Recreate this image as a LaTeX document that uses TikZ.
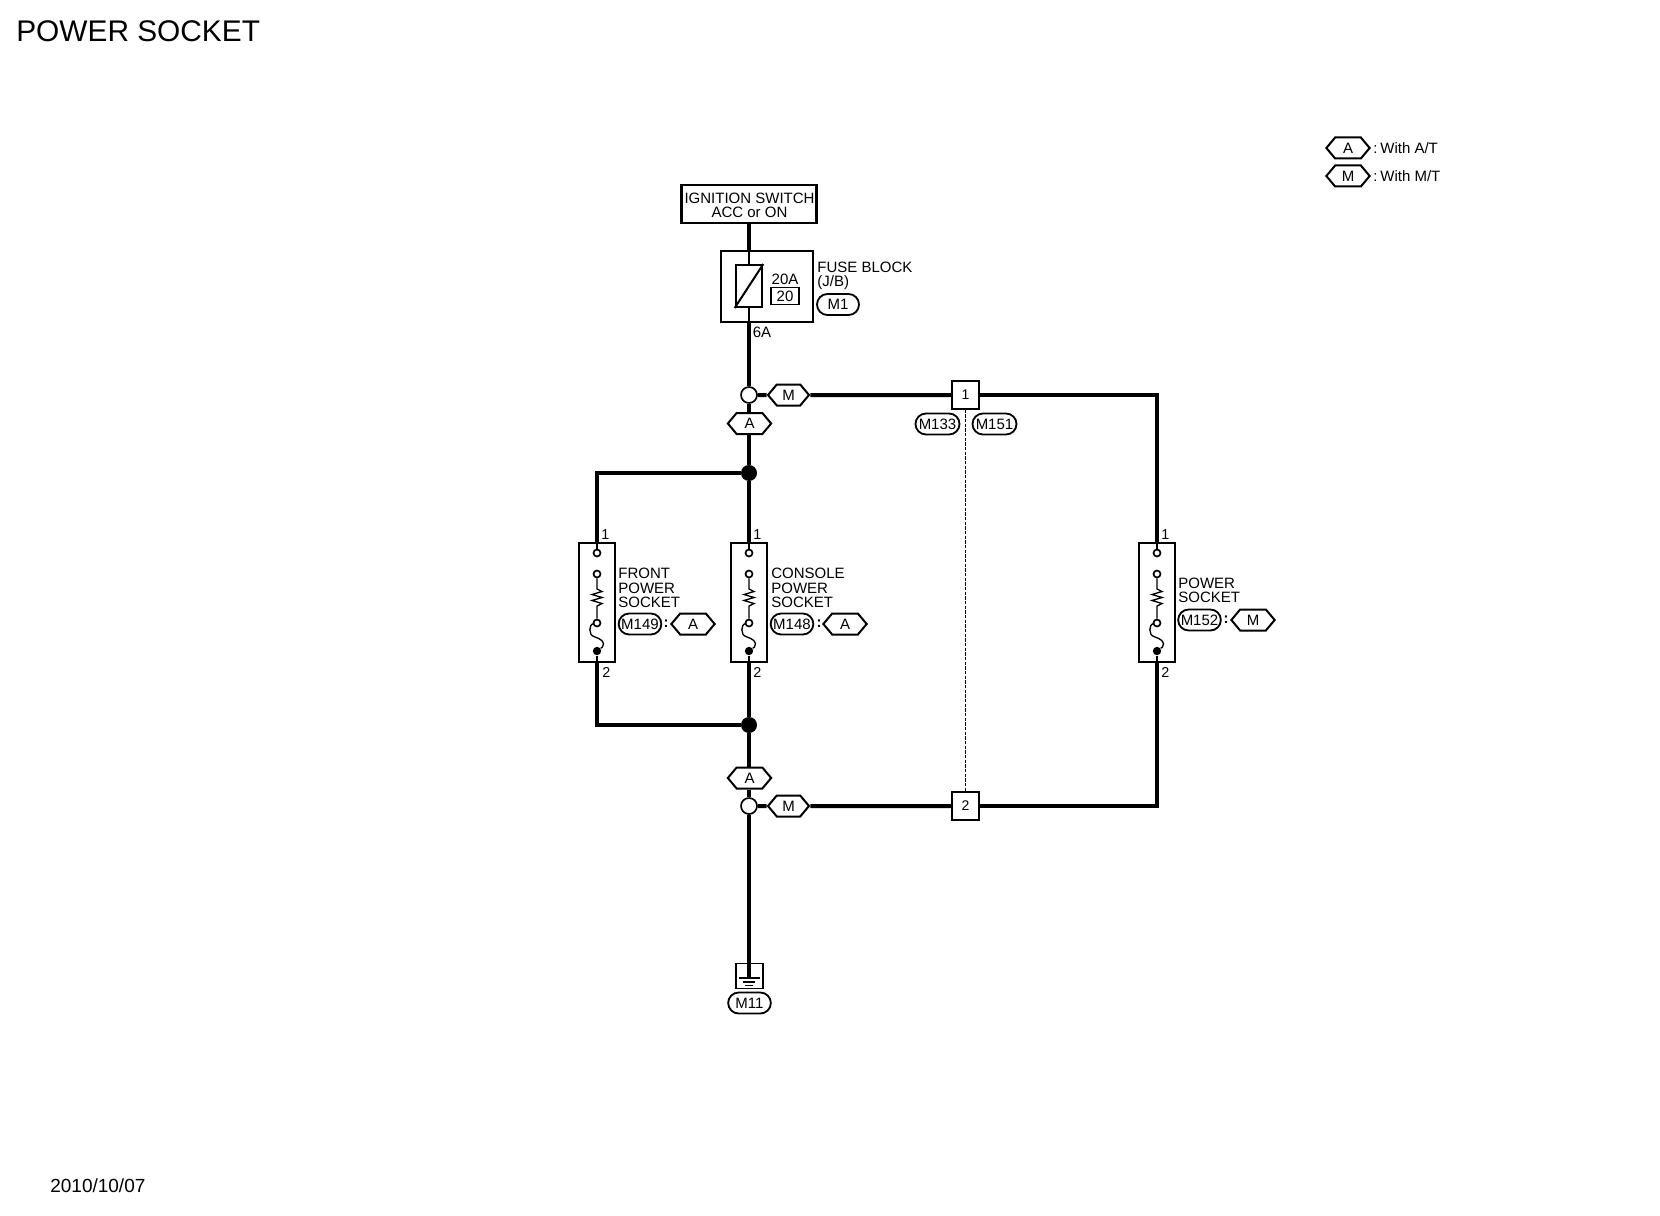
\documentclass[tikz,border=0pt]{standalone}
\usepackage{fontspec}
\setmainfont{Liberation Sans}
\usetikzlibrary{shapes.misc,shapes.symbols}

\tikzstyle{txt}=[inner sep=0pt,font=\fontsize{9}{8.6}\selectfont,align=left]
\tikzstyle{pin}=[inner sep=0pt,font=\fontsize{8.6}{8.6}\selectfont]
\tikzstyle{wire}=[draw,line width=2.4pt]
\tikzstyle{thinwire}=[draw,line width=1pt]
\tikzstyle{hexa}=[signal,signal to=east and west,signal pointer angle=100,draw,line width=1.2pt,minimum width=26pt,minimum height=12.6pt,inner sep=0pt,font=\fontsize{9}{9}\selectfont]
\tikzstyle{pill}=[rounded rectangle,draw,line width=1.1pt,minimum width=25.6pt,minimum height=12.6pt,inner sep=0pt,font=\fontsize{9}{9}\selectfont]
\tikzstyle{socket}=[rectangle,draw,line width=1pt,minimum width=21.6pt,minimum height=71.4pt,inner sep=0pt]
\tikzstyle{splice}=[circle,draw,line width=1pt,fill=white,minimum size=9.6pt,inner sep=0pt]
\tikzstyle{joint}=[circle,fill=black,minimum size=9.6pt,inner sep=0pt]
\tikzstyle{term}=[circle,draw,line width=1pt,fill=white,minimum size=4.2pt,inner sep=0pt]
\tikzstyle{termfill}=[circle,fill=black,minimum size=5pt,inner sep=0pt]
\tikzstyle{conn}=[rectangle,draw,line width=1pt,minimum size=16.5pt,inner sep=0pt,font=\fontsize{8.4}{8.4}\selectfont]

\begin{document}
\begin{tikzpicture}[x=0.6pt,y=-0.6pt]
	\useasboundingbox (0,0) rectangle (1660,1216);

	\node [txt,anchor=west,font=\fontsize{17.9}{17.9}\selectfont] (title) at (16,31) {POWER SOCKET};
	\node [txt,anchor=west,font=\fontsize{11.4}{11.4}\selectfont] (date) at (50,1186) {2010/10/07};

	% legend
	\node [hexa] (keya) at (1348,148) {A};
	\node [hexa] (keym) at (1348,176) {M};
	\node [txt,anchor=west] (keyatxt) at (1373,148) {:\kern-1.6pt{} With A/T};
	\node [txt,anchor=west] (keymtxt) at (1373,176) {:\kern-1.6pt{} With M/T};

	% supply and fuse
	\node [rectangle,draw,line width=1.5pt,minimum width=81pt,minimum height=22.8pt,inner sep=0pt] (ignition) at (749,204) {};
	\node [txt,align=center] (ignitiontxt) at (749.5,205.5) {IGNITION SWITCH\\ACC or ON};
	\node [rectangle,draw,line width=1.2pt,minimum width=55.2pt,minimum height=42.6pt] (fuseblock) at (767,286.5) {};
	\node [rectangle,draw,line width=1.2pt,minimum width=16pt,minimum height=25.2pt,inner sep=0pt] (fuse) at (749,286) {};
	\node [txt] (amps) at (785,279) {20A};
	\node [rectangle,draw,line width=0.8pt,minimum width=16.8pt,minimum height=10.2pt,inner sep=0pt,font=\fontsize{9}{9}\selectfont] (fuseno) at (785,296) {20};
	\node [txt,anchor=west] (fusetxt) at (817,276) {FUSE BLOCK\\(J/B)};
	\node [pill,minimum width=25.2pt] (m1) at (838,304.5) {M1};
	\node [txt,anchor=west] (sixa) at (752.5,332) {6A};

	% upper branch
	\node [splice] (split) at (749,395) {};
	\node [hexa,minimum width=24.6pt] (hexm) at (788.5,395) {M};
	\node [hexa] (hexa) at (749.5,423.5) {A};
	\node [joint] (dottop) at (749,473) {};
	\node [conn] (conna) at (965.5,395) {1};
	\node [pill,minimum width=26.4pt] (m133) at (937.5,424) {M133};
	\node [pill,minimum width=26.4pt] (m151) at (994.5,424) {M151};

	% sockets
	\node [socket] (frontsock) at (597,602.5) {};
	\node [socket] (consolesock) at (749,602.5) {};
	\node [socket] (powersock) at (1157,602.5) {};
	\node [pin,anchor=west] (pina) at (601,535) {1};
	\node [pin,anchor=west] (pinb) at (602,672) {2};
	\node [pin,anchor=west] (pinc) at (753,535) {1};
	\node [pin,anchor=west] (pind) at (753,672) {2};
	\node [pin,anchor=west] (pine) at (1161,535) {1};
	\node [pin,anchor=west] (pinf) at (1161,672) {2};

	\node [txt,anchor=west] (fronttxt) at (618,588) {FRONT\\POWER\\SOCKET};
	\node [pill] (m149) at (640,624) {M149};
	\node [txt,font=\bfseries\fontsize{9}{9}\selectfont] (colona) at (666,624) {:};
	\node [hexa] (hexb) at (693,624) {A};

	\node [txt,anchor=west] (consoletxt) at (771,588) {CONSOLE\\POWER\\SOCKET};
	\node [pill] (m148) at (792,624) {M148};
	\node [txt,font=\bfseries\fontsize{9}{9}\selectfont] (colonb) at (819,624) {:};
	\node [hexa] (hexc) at (845,624) {A};

	\node [txt,anchor=west] (powertxt) at (1178,590) {POWER\\SOCKET};
	\node [pill] (m152) at (1199.5,620) {M152};
	\node [txt,font=\bfseries\fontsize{9}{9}\selectfont] (colonc) at (1226,620) {:};
	\node [hexa] (hexd) at (1253,620) {M};

	% lower branch
	\node [joint] (dotbot) at (749,725) {};
	\node [hexa] (hexe) at (749.5,778) {A};
	\node [splice] (merge) at (749,806) {};
	\node [hexa,minimum width=24.6pt] (hexf) at (788.5,806) {M};
	\node [conn] (connb) at (965.5,806) {2};
	\node [rectangle,draw,line width=1pt,minimum width=16.2pt,minimum height=15pt] (gndbox) at (749.5,976) {};
	\coordinate (gnd) at (749,978);
	\node [pill] (m11) at (749.5,1003) {M11};

	% wires
	\draw [wire] (ignition) -- (ignition |- fuseblock.north);
	\draw [thinwire] (ignition |- fuseblock.north) -- (ignition |- fuse.north);
	\draw [thinwire] (ignition |- fuse.south) -- (ignition |- fuseblock.south);
	\draw [wire] (ignition |- fuseblock.south) -- (split);
	\draw [wire] (split) -- (hexm);
	\draw [wire] (hexm) -- (conna);
	\draw [wire] (split) -- (split |- hexa.north);
	\draw [wire] (split |- hexa.south) -- (dottop);
	\draw [wire] (dottop) -| (frontsock.north);
	\draw [wire] (dottop) -- (consolesock.north);
	\draw [wire] (conna) -| (powersock.north);
	\draw [wire] (frontsock.south) |- (dotbot);
	\draw [wire] (consolesock.south) -- (dotbot);
	\draw [wire] (powersock.south) |- (connb);
	\draw [wire] (dotbot) -- (dotbot |- hexe.north);
	\draw [wire] (dotbot |- hexe.south) -- (merge);
	\draw [wire] (merge) -- (hexf);
	\draw [wire] (hexf) -- (connb);
	\draw [wire] (merge) -- (gnd);
	\draw [draw,line width=0.6pt,dash pattern=on 2pt off 0.8pt] (conna) -- (connb);

	% fuse element
	\draw [line width=1.2pt] (fuse.south west) -- (fuse.north east);

	% ground symbol
	\draw [line width=1.2pt] (739,978) -- (760,978);
	\draw [line width=0.8pt] (743,982) -- (755,982);
	\draw [line width=0.6pt] (745,985) -- (753,985);

	% inside of the sockets
	\foreach \x/\nm in {597/front,749/console,1157/power} {
		\node [term] (\nm top) at (\x,553) {};
		\node [term] (\nm mid) at (\x,574) {};
		\node [term] (\nm low) at (\x,623) {};
		\node [termfill] (\nm end) at (\x,651) {};
		\draw [thinwire] (\nm sock.north) -- (\nm top);
		\draw [thinwire] (\nm end) -- (\nm sock.south);
		\draw [line width=0.8pt] (\nm mid) -- (\x,589) -- ++(5,2.5) -- ++(-10,3) -- ++(10,3) -- ++(-10,3) -- ++(10,3) -- ++(-5,2.5) -- (\nm low);
		\draw [line width=0.8pt] (\nm low) .. controls ({\x-7},624) and ({\x-10},635) .. ({\x-2},637) .. controls ({\x+3},638.5) and ({\x+9},642) .. ({\x+5.5},647) -- (\nm end);
	}
\end{tikzpicture}
\end{document}
